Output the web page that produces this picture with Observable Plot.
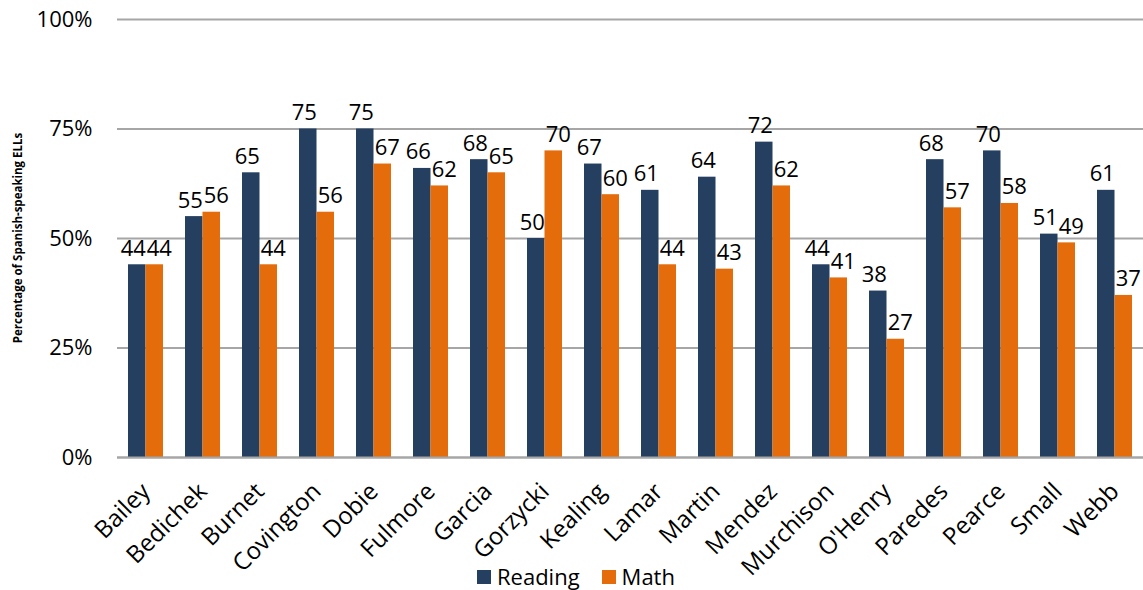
<!DOCTYPE html>
<html>
<head>
<meta charset="utf-8">
<script src="https://cdn.jsdelivr.net/npm/d3@7"></script>
<script src="https://cdn.jsdelivr.net/npm/@observablehq/plot@0.6"></script>
<style>
  html, body { margin: 0; padding: 0; background: #fff; }
  body { width: 1143px; height: 590px; position: relative; overflow: hidden; font-family: "Open Sans", sans-serif; }
  #chart { position: absolute; left: 0; top: 0; }
  #chart g[aria-label="x-axis tick label"] { font-size: 24px; }
  #ytitle { position: absolute; left: 17px; top: 238px; transform: translate(-50%, -50%) rotate(-90deg); font: bold 11.5px "Open Sans", sans-serif; white-space: nowrap; color: #000; }
  #legend { position: absolute; left: 477px; top: 563px; height: 27px; line-height: 27px; display: flex; align-items: center; font: 22px/27px "Open Sans", sans-serif; color: #000; }
  #legend span.sw { display: inline-block; width: 14px; height: 14px; margin-right: 6px; }
  #legend span.item { display: inline-flex; align-items: center; margin-right: 22px; }
</style>
</head>
<body>
<div id="chart"></div>
<div id="ytitle">Percentage of Spanish-speaking ELLs</div>
<div id="legend"></div>
<script>
const schools = ["Bailey","Bedichek","Burnet","Covington","Dobie","Fulmore","Garcia","Gorzycki","Kealing","Lamar","Martin","Mendez","Murchison","O'Henry","Paredes","Pearce","Small","Webb"];
const reading = [44,55,65,75,75,66,68,50,67,61,64,72,44,38,68,70,51,61];
const math    = [44,56,44,56,67,62,65,70,60,44,43,62,41,27,57,58,49,37];
const seriesNames = ["Reading","Math"];
const seriesColors = ["#253F60","#E46C0A"];
const yTicks = [0,25,50,75,100];

const readingData = schools.map((s,i) => ({school: s, value: reading[i]}));
const mathData = schools.map((s,i) => ({school: s, value: math[i]}));

const labelFont = {fontSize: 22, fill: "#000"};

const chart = Plot.plot({
  width: 1143,
  height: 590,
  marginTop: 19,
  marginBottom: 133,
  marginLeft: 117,
  marginRight: 0,
  style: {fontFamily: "'Open Sans', sans-serif", fontSize: "22px", color: "#000", background: "#fff"},
  x: {domain: schools, padding: 0, label: null, tickSize: 0, tickRotate: -45, tickPadding: 30},
  y: {domain: [0,100], ticks: yTicks, tickFormat: d => d + "%", tickSize: 0, tickPadding: 25, label: null},
  marks: [
    Plot.ruleY(yTicks, {stroke: "#a6a6a6", strokeWidth: 2}),
    Plot.barY(readingData, {x: "school", y: "value", fill: seriesColors[0], insetLeft: 11, insetRight: 28.5}),
    Plot.barY(mathData, {x: "school", y: "value", fill: seriesColors[1], insetLeft: 28.5, insetRight: 11}),
    Plot.ruleY([0], {stroke: "#a6a6a6", strokeWidth: 2}),
    Plot.text(readingData, {x: "school", y: "value", text: d => String(d.value), dx: -12.75, dy: -9, lineAnchor: "bottom", ...labelFont}),
    Plot.text(mathData, {x: "school", y: "value", text: d => String(d.value), dx: 13.25, dy: -9, lineAnchor: "bottom", ...labelFont})
  ]
});
document.getElementById("chart").appendChild(chart);

const legend = document.getElementById("legend");
seriesNames.forEach((n,i) => {
  const item = document.createElement("span");
  item.className = "item";
  const sw = document.createElement("span");
  sw.className = "sw";
  sw.style.background = seriesColors[i];
  item.appendChild(sw);
  item.appendChild(document.createTextNode(n));
  legend.appendChild(item);
});
</script>
</body>
</html>
